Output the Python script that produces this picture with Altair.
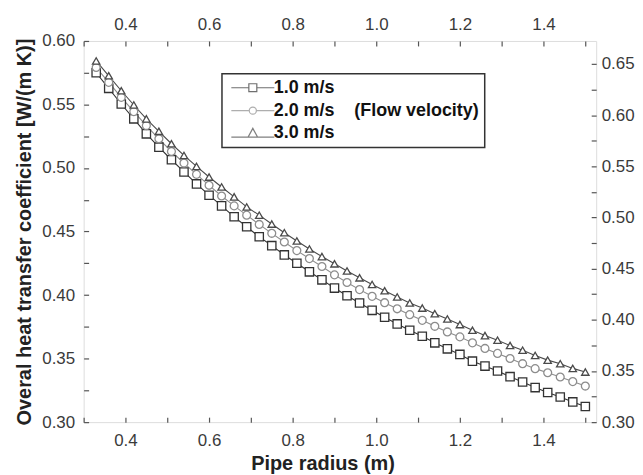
import altair as alt
import pandas as pd

FONT = "Liberation Sans"

series_names = ["1.0 m/s", "2.0 m/s", "3.0 m/s"]
series_colors = ["#333333", "#8c8c8c", "#4a4a4a"]

radius = [0.33, 0.36, 0.39, 0.42, 0.45, 0.48, 0.51, 0.54, 0.57, 0.60,
          0.63, 0.66, 0.69, 0.72, 0.75, 0.78, 0.81, 0.84, 0.87, 0.90,
          0.93, 0.96, 0.99, 1.02, 1.05, 1.08, 1.11, 1.14, 1.17, 1.20,
          1.23, 1.26, 1.29, 1.32, 1.35, 1.38, 1.41, 1.44, 1.47, 1.50]

u_1ms = [0.5750, 0.5627, 0.5504, 0.5387, 0.5269, 0.5164, 0.5065, 0.4969, 0.4875, 0.4786,
         0.4702, 0.4616, 0.4538, 0.4459, 0.4389, 0.4316, 0.4251, 0.4183, 0.4120, 0.4055,
         0.3995, 0.3938, 0.3880, 0.3826, 0.3773, 0.3723, 0.3676, 0.3624, 0.3577, 0.3533,
         0.3480, 0.3441, 0.3402, 0.3358, 0.3316, 0.3272, 0.3233, 0.3198, 0.3159, 0.3123]

u_2ms = [0.5791, 0.5674, 0.5556, 0.5444, 0.5334, 0.5230, 0.5130, 0.5039, 0.4950, 0.4864,
         0.4780, 0.4702, 0.4629, 0.4556, 0.4486, 0.4418, 0.4350, 0.4287, 0.4225, 0.4159,
         0.4099, 0.4043, 0.3990, 0.3940, 0.3892, 0.3846, 0.3801, 0.3754, 0.3710, 0.3671,
         0.3624, 0.3580, 0.3541, 0.3501, 0.3460, 0.3421, 0.3389, 0.3355, 0.3319, 0.3284]

u_3ms = [0.5843, 0.5726, 0.5608, 0.5496, 0.5387, 0.5289, 0.5191, 0.5099, 0.5013, 0.4929,
         0.4851, 0.4773, 0.4694, 0.4629, 0.4559, 0.4491, 0.4426, 0.4363, 0.4303, 0.4246,
         0.4190, 0.4136, 0.4084, 0.4034, 0.3985, 0.3938, 0.3898, 0.3854, 0.3812, 0.3768,
         0.3723, 0.3681, 0.3645, 0.3603, 0.3566, 0.3525, 0.3488, 0.3460, 0.3423, 0.3394]

x_domain = [0.3, 1.526]
y_left_domain = [0.30, 0.60]
y_right_domain = [0.30, 0.6725]

x_ticks = [0.3, 0.4, 0.5, 0.6, 0.7, 0.8, 0.9, 1.0, 1.1, 1.2, 1.3, 1.4, 1.5]
y_left_ticks = [0.30, 0.325, 0.35, 0.375, 0.40, 0.425, 0.45, 0.475, 0.50, 0.525, 0.55, 0.575, 0.60]
y_right_ticks = [0.30, 0.325, 0.35, 0.375, 0.40, 0.425, 0.45, 0.475, 0.50, 0.525, 0.55, 0.575,
                 0.60, 0.625, 0.65]

rows = []
for name, vals in zip(series_names, [u_1ms, u_2ms, u_3ms]):
    for r, v in zip(radius, vals):
        rows.append({"series": name, "radius": r, "u": v})
df = pd.DataFrame(rows)

x_label_expr = "abs(datum.value*5 - round(datum.value*5)) < 0.01 ? format(datum.value, '.1f') : ''"
y_label_expr = "abs(datum.value*20 - round(datum.value*20)) < 0.01 ? format(datum.value, '.2f') : ''"

axis_common = dict(domain=False, grid=False, ticks=True, tickSize=5, tickColor="#555555",
                   tickWidth=1.2, offset=-5, labelFont=FONT, labelFontSize=17,
                   labelColor="#3a3a3a", labelOverlap=False, labelBound=False,
                   labelFlush=False, titleFont=FONT, titleFontSize=20,
                   titleFontWeight="bold", titleColor="#222222")

x_bottom = alt.Axis(orient="bottom", values=x_ticks, labelExpr=x_label_expr,
                    title="Pipe radius (m)", labelPadding=10, titlePadding=6,
                    titleX=240, **axis_common)
x_top = alt.Axis(orient="top", values=x_ticks, labelExpr=x_label_expr, title=None,
                 labelPadding=8, **axis_common)
y_left = alt.Axis(orient="left", values=y_left_ticks, labelExpr=y_label_expr,
                  title="Overal heat transfer coefficient [W/(m K)]", labelPadding=9,
                  titlePadding=7, **axis_common)
y_right = alt.Axis(orient="right", values=y_right_ticks, labelExpr=y_label_expr,
                   title=None, labelPadding=5, **axis_common)

color_scale = alt.Scale(domain=series_names, range=series_colors)

lines = alt.Chart(df).mark_line(strokeWidth=1.1).encode(
    x=alt.X("radius:Q", scale=alt.Scale(domain=x_domain, nice=False, zero=False), axis=x_bottom),
    y=alt.Y("u:Q", scale=alt.Scale(domain=y_left_domain, nice=False, zero=False), axis=y_left),
    color=alt.Color("series:N", scale=color_scale, legend=None),
    detail="series:N",
)

points = alt.Chart(df).mark_point(filled=True, fill="white", fillOpacity=1, opacity=1,
                                  strokeWidth=1.3).encode(
    x=alt.X("radius:Q", scale=alt.Scale(domain=x_domain, nice=False, zero=False), axis=None),
    y=alt.Y("u:Q", scale=alt.Scale(domain=y_left_domain, nice=False, zero=False), axis=None),
    stroke=alt.Stroke("series:N", scale=color_scale, legend=None),
    shape=alt.Shape("series:N", scale=alt.Scale(domain=series_names,
                                                range=["square", "circle", "triangle-up"]),
                    legend=None),
    size=alt.Size("series:N", scale=alt.Scale(domain=series_names, range=[70, 55, 110]),
                  legend=None),
)

axes2 = alt.Chart(df).mark_point(opacity=0).encode(
    x=alt.X("radius:Q", scale=alt.Scale(domain=x_domain, nice=False, zero=False), axis=x_top),
    y=alt.Y("u:Q", scale=alt.Scale(domain=y_right_domain, nice=False, zero=False), axis=y_right),
)

legend_paths = [
    "M-5.4,0H-1M1,0H5.4M-1,-1H1V1H-1Z",
    "M-5.4,0H-0.9M0.9,0H5.4M-0.9,0A0.9,0.9,0,1,0,0.9,0A0.9,0.9,0,1,0,-0.9,0Z",
    "M-5.4,0.9H-1.2M1.2,0.9H5.4M0,-1.3L1.2,0.9H-1.2Z",
]

NB = "\u00a0"
legend_layer = alt.Chart(df).mark_point(filled=False, strokeWidth=1.3, clip=True).encode(
    x=alt.X("radius:Q", scale=alt.Scale(domain=[10, 11]), axis=None),
    y=alt.Y("u:Q", scale=alt.Scale(domain=y_left_domain, nice=False, zero=False), axis=None),
    color=alt.Color("series:N", scale=color_scale,
                    legend=alt.Legend(
                        orient="none", legendX=139, legendY=33, title=None,
                        labelFont=FONT, labelFontSize=18, labelFontWeight="bold",
                        labelColor="#111111", symbolSize=64, symbolStrokeWidth=1.2,
                        symbolOffset=17, labelOffset=12, padding=5,
                        strokeColor="#333333", labelLimit=400,
                        labelExpr="datum.label == '2.0 m/s' ? '2.0 m/s" + NB * 4
                                  + "(Flow velocity)' : datum.label")),
    shape=alt.Shape("series:N", scale=alt.Scale(domain=series_names, range=legend_paths)),
)

chart = alt.layer(lines, points, axes2, legend_layer).resolve_scale(
    x="independent", y="independent", color="independent", shape="independent",
    size="independent", stroke="independent"
).properties(
    width=515, height=383, padding={"left": 6, "top": 6, "right": 0, "bottom": 0}
).configure_view(stroke="#555555", strokeWidth=1.5).configure(
    background="white"
).configure_legend(strokeWidth=1.5, rowPadding=5)

chart.save("out.html", embed_options={"renderer": "svg", "actions": False})
